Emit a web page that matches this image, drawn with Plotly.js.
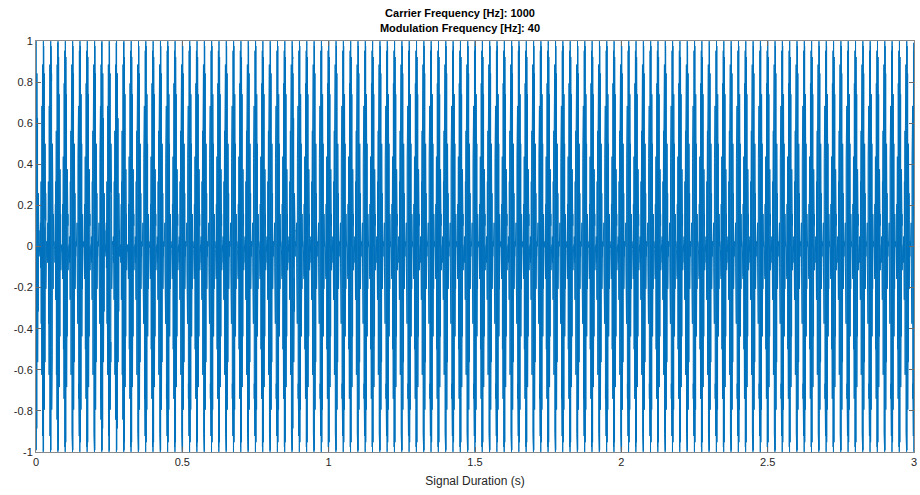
<!DOCTYPE html>
<html>
<head>
<meta charset="utf-8">
<script src="https://cdn.plot.ly/plotly-3.0.1.min.js"></script>
<style>
  html, body { margin: 0; padding: 0; background: #fff; }
  #chart { width: 920px; height: 495px; }
</style>
</head>
<body>
<div id="chart"></div>
<script>
// Signal parameters (as printed in the title)
const carrierHz = 1000;
const modulationHz = 40;
const durationS = 3;
const sampleRate = 40000;

// Axis ticks
const xTickVals = [0, 0.5, 1, 1.5, 2, 2.5, 3];
const xTickText = ['0', '0.5', '1', '1.5', '2', '2.5', '3'];
const yTickVals = [-1, -0.8, -0.6, -0.4, -0.2, 0, 0.2, 0.4, 0.6, 0.8, 1];
const yTickText = ['-1', '-0.8', '-0.6', '-0.4', '-0.2', '0', '0.2', '0.4', '0.6', '0.8', '1'];

// Amplitude-modulated tone: carrier scaled by a raised-cosine envelope
const time = [];
const signal = [];
const n = Math.round(durationS * sampleRate);
for (let i = 0; i <= n; i++) {
  const t = i / sampleRate;
  const envelope = 0.5 * (1 + Math.cos(2 * Math.PI * modulationHz * t));
  time.push(t);
  signal.push(envelope * Math.sin(2 * Math.PI * carrierHz * t));
}

const font = { family: 'Liberation Sans, Arial, Helvetica, sans-serif', color: '#262626' };

const trace = {
  type: 'scatter',
  mode: 'lines',
  x: time,
  y: signal,
  line: { color: '#0072BD', width: 1 },
  hoverinfo: 'skip'
};

const axisCommon = {
  showgrid: false,
  zeroline: false,
  showline: true,
  mirror: 'allticks',
  linecolor: '#8a8a8a',
  linewidth: 1,
  ticks: 'inside',
  ticklen: 5,
  tickcolor: '#6a6a6a',
  tickwidth: 1,
  tickfont: { family: font.family, color: '#262626', size: 11 }
};

const layout = {
  width: 920,
  height: 495,
  margin: { l: 36, r: 6, t: 41, b: 43 },
  paper_bgcolor: '#fff',
  plot_bgcolor: '#fff',
  showlegend: false,
  font: font,
  title: {
    text: '<b>Carrier Frequency [Hz]: 1000</b><br><b>Modulation Frequency [Hz]: 40</b>',
    font: { family: font.family, size: 11, color: '#000' },
    x: 0.5,
    xanchor: 'center',
    yref: 'container',
    y: 0.965,
    yanchor: 'middle'
  },
  xaxis: Object.assign({}, axisCommon, {
    range: [0, durationS],
    tickvals: xTickVals,
    ticktext: xTickText,
    title: { text: 'Signal Duration (s)', font: { family: font.family, size: 12, color: '#262626' }, standoff: 9 }
  }),
  yaxis: Object.assign({}, axisCommon, {
    range: [-1, 1],
    tickvals: yTickVals,
    ticktext: yTickText
  })
};

Plotly.newPlot('chart', [trace], layout, { staticPlot: true, displayModeBar: false });
</script>
</body>
</html>
